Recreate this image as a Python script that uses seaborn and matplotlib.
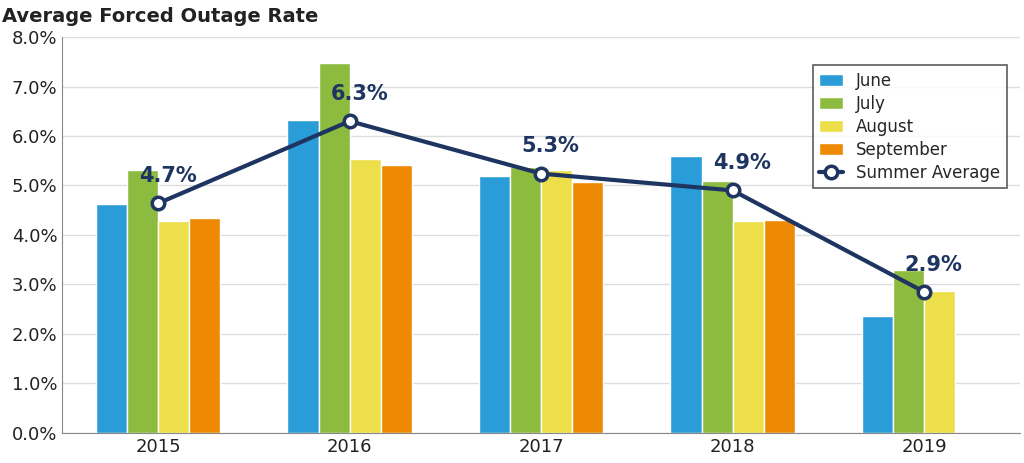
import pandas as pd
import matplotlib.pyplot as plt
import seaborn as sns

years = ['2015', '2016', '2017', '2018', '2019']
months = ['June', 'July', 'August', 'September']
june = [4.62, 6.32, 5.20, 5.60, 2.36]
july = [5.31, 7.48, 5.38, 5.09, 3.30]
august = [4.28, 5.54, 5.32, 4.28, 2.86]
september = [4.34, 5.41, 5.08, 4.30, None]
summer_avg = [4.64, 6.30, 5.24, 4.90, 2.85]
avg_labels = ['4.7%', '6.3%', '5.3%', '4.9%', '2.9%']

colors = ['#2a9dd8', '#8dbb40', '#ecdf4a', '#ee8903']
navy = '#1e3461'

sns.set_style('white')
plt.rcParams['font.family'] = ['Liberation Sans Narrow', 'DejaVu Sans']

rows = []
for m, vals in zip(months, [june, july, august, september]):
    for y, v in zip(years, vals):
        rows.append({'year': y, 'month': m, 'value': v})
df = pd.DataFrame(rows)

fig = plt.figure(figsize=(10.24, 4.63), dpi=100)
ax = fig.add_axes([0.061, 0.065, 0.935, 0.855])

sns.barplot(data=df, x='year', y='value', hue='month', hue_order=months,
            palette=colors, width=0.65, saturation=1, ax=ax, zorder=2)
ax.plot(range(len(years)), summer_avg, color=navy, lw=3, marker='o', ms=9,
        mfc='white', mec=navy, mew=2.5, zorder=4, label='Summer Average')
for i, (v, t) in enumerate(zip(summer_avg, avg_labels)):
    ax.text(i + 0.05, v + 0.35, t, color=navy, fontsize=15, fontweight='bold',
            ha='center', va='bottom', zorder=5)

ax.set_ylim(0, 8)
ax.set_xlim(-0.5, 4.5)
ax.set_yticks([i for i in range(9)])
ax.set_yticklabels([f'{i}.0%' for i in range(9)], fontsize=13, color='#222222')
ax.tick_params(axis='x', labelsize=13, colors='#222222', length=0)
ax.tick_params(axis='y', length=0)
ax.grid(axis='y', color='#dddddd', lw=1, zorder=0)
ax.set_axisbelow(True)
ax.set_xlabel('')
ax.set_ylabel('')
for s in ['top', 'right']:
    ax.spines[s].set_visible(False)
ax.spines['left'].set_color('#888888')
ax.spines['bottom'].set_color('#888888')

leg = ax.legend(loc='upper right', bbox_to_anchor=(0.995, 0.95), fontsize=12,
                frameon=True, fancybox=False, edgecolor='#333333',
                handlelength=1.4, labelspacing=0.3)
leg.get_frame().set_linewidth(1.2)

fig.text(0.002, 0.965, 'Average Forced Outage Rate', fontsize=14,
         fontweight='bold', color='#222222', ha='left', va='center')

fig.savefig('out.png', dpi=100)
